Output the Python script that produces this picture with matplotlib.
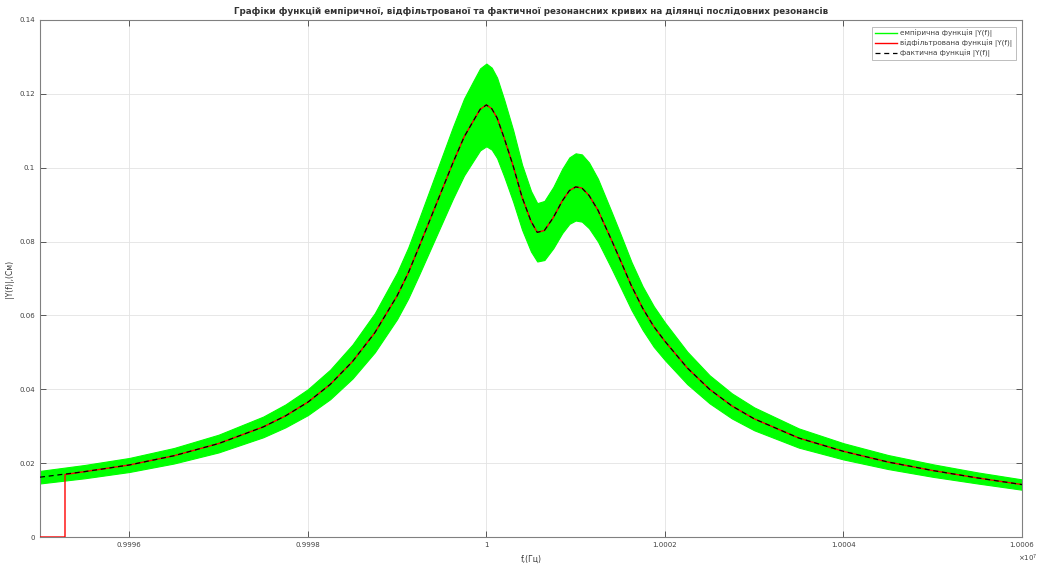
import matplotlib
matplotlib.use("Agg")
import matplotlib.pyplot as plt
import numpy as np

# frequency (x 1e7 Hz)
freq = [0.99950, 0.99955, 0.99960, 0.99965, 0.99970, 0.99975, 0.999775, 0.99980,
        0.999825, 0.99985, 0.999875, 0.99990, 0.9999125, 0.999925, 0.9999375,
        0.99995, 0.9999625, 0.999975, 0.999985, 0.999993, 1.00000, 1.000006,
        1.000012, 1.00002, 1.00003, 1.00004, 1.00005, 1.000057, 1.000065,
        1.000075, 1.000085, 1.000093, 1.00010, 1.000107, 1.000115, 1.000125,
        1.00014, 1.00015, 1.0001625, 1.000175, 1.0001875, 1.00020, 1.000225,
        1.00025, 1.000275, 1.00030, 1.00035, 1.00040, 1.00045, 1.00050,
        1.00055, 1.00060]
# actual |Y(f)|, S
actual = [0.0162, 0.0177, 0.0195, 0.0220, 0.0253, 0.0298, 0.0328, 0.0365,
          0.0413, 0.0475, 0.0553, 0.0653, 0.0715, 0.0788, 0.0863,
          0.0938, 0.1013, 0.1083, 0.1125, 0.1158, 0.1170, 0.1160,
          0.1135, 0.1080, 0.1005, 0.0920, 0.0855, 0.0825, 0.0830,
          0.0865, 0.0910, 0.0938, 0.0948, 0.0945, 0.0925, 0.0885,
          0.0805, 0.0750, 0.0680, 0.0620, 0.0570, 0.0530, 0.0458,
          0.0400, 0.0355, 0.0320, 0.0268, 0.0232, 0.0203, 0.0180,
          0.0160, 0.0142]
# half width of the noisy empirical band
emp_halfwidth = [0.0017, 0.0018, 0.0019, 0.0021, 0.0024, 0.0028, 0.0031, 0.0035,
                 0.0040, 0.0046, 0.0053, 0.0063, 0.0069, 0.0076, 0.0083,
                 0.0090, 0.0097, 0.0104, 0.0108, 0.0111, 0.0112, 0.0111,
                 0.0109, 0.0104, 0.0097, 0.0088, 0.0082, 0.0079, 0.0080,
                 0.0083, 0.0087, 0.0090, 0.0091, 0.0091, 0.0089, 0.0085,
                 0.0077, 0.0072, 0.0065, 0.0059, 0.0055, 0.0051, 0.0044,
                 0.0038, 0.0034, 0.0031, 0.0026, 0.0022, 0.0019, 0.0017,
                 0.0015, 0.0014]
# filtered curve start (filter transient)
filt_start_f = 0.999528
filt_start_y = 0.0169

title = "Графіки функцій емпіричної, відфільтрованої та фактичної резонансних кривих на ділянці послідовних резонансів"
legend_labels = ["емпірична функція |Y(f)|", "відфільтрована функція |Y(f)|", "фактична функція |Y(f)|"]
xticks = [0.9996, 0.9998, 1.0, 1.0002, 1.0004, 1.0006]
xtick_labels = ["0.9996", "0.9998", "1", "1.0002", "1.0004", "1.0006"]
yticks = [0, 0.02, 0.04, 0.06, 0.08, 0.1, 0.12, 0.14]
ytick_labels = ["0", "0.02", "0.04", "0.06", "0.08", "0.1", "0.12", "0.14"]

f = np.array(freq)
y = np.array(actual)
hw = np.array(emp_halfwidth)

fig = plt.figure(figsize=(10.4, 5.66), dpi=100)
ax = fig.add_axes([40/1040, 1-537/566, (1022-40)/1040, (537-20)/566])

ax.fill_between(f, y - hw, y + hw, color="#00FF00", linewidth=0.8,
                edgecolor="#00FF00", zorder=2)
ax.plot([], [], color="#00FF00", lw=1, label=legend_labels[0])

mask = f > filt_start_f
fx = np.concatenate([[f[0], filt_start_f, filt_start_f], f[mask]])
fy = np.concatenate([[0, 0, filt_start_y], y[mask]])
ax.plot(fx, fy, color="#FF0000", lw=1.0, zorder=3, label=legend_labels[1])
ax.plot(f, y, color="black", lw=0.9, ls=(0, (4, 3)), zorder=4, label=legend_labels[2])

ax.set_xlim(0.9995, 1.0006)
ax.set_ylim(0, 0.14)
ax.set_xticks(xticks)
ax.set_xticklabels(xtick_labels)
ax.set_yticks(yticks)
ax.set_yticklabels(ytick_labels)
ax.grid(True, color="#E3E3E3", lw=0.6, zorder=0)
ax.set_axisbelow(True)
ax.tick_params(direction="in", length=4, width=0.6, labelsize=5, colors="#404040",
               top=True, right=True)
for s in ax.spines.values():
    s.set_color("#808080")
    s.set_linewidth(0.8)

ax.set_title(title, fontsize=6.3, fontweight="bold", color="#333333", pad=4)
ax.set_xlabel("f,(Гц)", fontsize=5.5, color="#333333", labelpad=5)
ax.set_ylabel("|Y(f)|,(См)", fontsize=5.5, color="#333333", labelpad=4)
ax.text(1.0 + 6/982, -0.03, r"$\times10^{7}$", transform=ax.transAxes, fontsize=5,
        ha="center", va="top", color="#404040")

leg = ax.legend(loc="upper right", fontsize=5.2, handlelength=3, handletextpad=0.5,
                frameon=True, fancybox=False, edgecolor="#A0A0A0",
                borderaxespad=0.9, labelspacing=0.3, borderpad=0.4)
leg.get_frame().set_linewidth(0.6)
for t in leg.get_texts():
    t.set_color("#404040")

fig.savefig("out.png", dpi=100)
